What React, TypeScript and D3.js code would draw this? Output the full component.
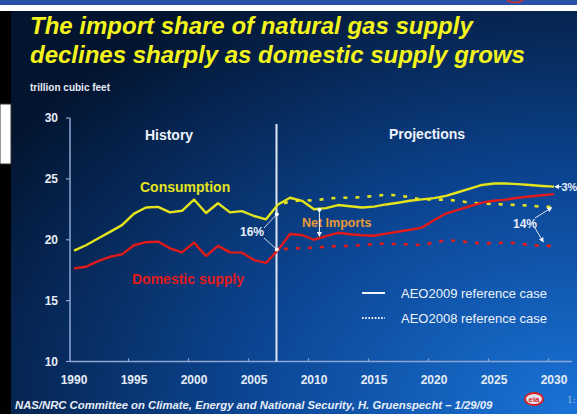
import React from "react";
import * as d3 from "d3";

const histYears = d3.range(1990, 2008);
const histConsumption = [19.1, 19.55, 20.1, 20.65, 21.2, 22.15, 22.65, 22.7, 22.25, 22.38, 23.3, 22.2, 23.0, 22.25, 22.35, 21.95, 21.68, 22.9];
const histDomestic = [17.65, 17.78, 18.25, 18.6, 18.8, 19.55, 19.8, 19.85, 19.3, 18.96, 19.76, 18.66, 19.5, 18.96, 18.94, 18.33, 18.1, 19.15];

const projYears = d3.range(2007, 2031);
const aeo09Consumption = [22.9, 23.45, 23.2, 22.5, 22.6, 22.85, 22.75, 22.65, 22.72, 22.9, 23.04, 23.2, 23.32, 23.42, 23.6, 23.9, 24.2, 24.5, 24.62, 24.62, 24.57, 24.5, 24.42, 24.36];
const aeo09Domestic = [19.15, 20.47, 20.39, 20.0, 20.3, 20.57, 20.45, 20.37, 20.33, 20.5, 20.66, 20.82, 21.0, 21.6, 22.15, 22.45, 22.75, 23.05, 23.2, 23.3, 23.45, 23.55, 23.65, 23.75];
const aeo08Consumption = [22.9, 23.12, 23.26, 23.22, 23.37, 23.45, 23.45, 23.5, 23.59, 23.7, 23.64, 23.5, 23.3, 23.3, 23.29, 23.2, 23.04, 22.99, 22.93, 22.9, 22.85, 22.8, 22.71, 22.71];
const aeo08Domestic = [19.15, 19.3, 19.3, 19.35, 19.43, 19.48, 19.5, 19.56, 19.64, 19.7, 19.64, 19.62, 19.56, 19.78, 19.97, 19.9, 19.78, 19.7, 19.7, 19.78, 19.7, 19.56, 19.5, 19.5];

const yTicks = [10, 15, 20, 25, 30];
const xTicks = [1990, 1995, 2000, 2005, 2010, 2015, 2020, 2025, 2030];

const titleLines = ["The import share of natural gas supply", "declines sharply as domestic supply grows"];
const footer = "NAS/NRC Committee on Climate, Energy and National Security, H. Gruenspecht \u2013 1/29/09";

const YELLOW = "#e4e41c";
const RED = "#e21a1a";
const FONT = "'Liberation Sans', Arial, sans-serif";

export default function App() {
  const W = 577, H = 414;
  const x = d3.scaleLinear().domain([1990, 2030]).range([74, 554]);
  const y = d3.scaleLinear().domain([10, 30]).range([361.5, 118]);
  const line = d3.line<[number, number]>().x(d => x(d[0])).y(d => y(d[1])).curve(d3.curveLinear);
  const zip = (xs: number[], vs: number[]) => xs.map((v, i) => [v, vs[i]] as [number, number]);

  const axisColor = "#8ea6d2";
  const labelColor = "#e6ecf6";

  const a16top: [number, number] = [x(2006.9), y(22.1)];
  const a16bot: [number, number] = [x(2006.9), y(19.2)];
  const niX = x(2010.45);
  const c2030 = aeo09Consumption[aeo09Consumption.length - 1];
  const c08 = aeo08Consumption[aeo08Consumption.length - 1];
  const d08 = aeo08Domestic[aeo08Domestic.length - 2];

  return (
    <svg width={W} height={H} viewBox={`0 0 ${W} ${H}`} style={{ position: "absolute", left: 0, top: 0, display: "block" }}>
      <defs>
        <radialGradient id="bg" cx="100%" cy="100%" r="120%" fx="100%" fy="100%">
          <stop offset="0%" stopColor="#1a74d8" />
          <stop offset="45%" stopColor="#0c4898" />
          <stop offset="100%" stopColor="#03142f" />
        </radialGradient>
        <marker id="ah" viewBox="0 0 6 6" refX="5" refY="3" markerWidth="5" markerHeight="5" orient="auto">
          <path d="M0,0 L6,3 L0,6 z" fill="#f0f4fa" />
        </marker>
      </defs>
      <rect x={0} y={0} width={W} height={5} fill="#2a4fa6" />
      <rect x={0} y={5} width={W} height={6} fill="#ffffff" />
      <path d="M507,0 Q515,5 523,0" fill="none" stroke="#d23030" strokeWidth={1.5} />
      <rect x={0} y={11} width={W} height={H - 11} fill="url(#bg)" />
      <rect x={0} y={11} width={11} height={H - 11} fill="#000000" />
      <rect x={0} y={104} width={11} height={60} fill="#ffffff" stroke="#333" strokeWidth={1} />

      {titleLines.map((t, i) => (
        <text key={i} x={30} y={34 + i * 29} fill="#f4f41c" fontFamily={FONT} fontWeight="bold" fontStyle="italic" fontSize={24}>{t}</text>
      ))}

      <text x={30} y={91} fill={labelColor} fontFamily={FONT} fontWeight="bold" fontSize={10}>trillion cubic feet</text>

      <line x1={70} y1={y(30)} x2={70} y2={y(10)} stroke={axisColor} strokeWidth={1.5} />
      <line x1={70} y1={y(10)} x2={572} y2={y(10)} stroke={axisColor} strokeWidth={1.5} />
      {yTicks.map(t => (
        <g key={t}>
          <line x1={66} x2={70} y1={y(t)} y2={y(t)} stroke={axisColor} strokeWidth={1.2} />
          <text x={58} y={y(t) + 4} textAnchor="end" fill={labelColor} fontFamily={FONT} fontWeight="bold" fontSize={12}>{t}</text>
        </g>
      ))}
      {xTicks.map(t => (
        <g key={t}>
          {t > 1990 && <line x1={x(t) - 5.5} x2={x(t) - 5.5} y1={y(10) - 3} y2={y(10)} stroke={axisColor} strokeWidth={1.2} />}
          <text x={x(t)} y={384} textAnchor="middle" fill={labelColor} fontFamily={FONT} fontWeight="bold" fontSize={12}>{t}</text>
        </g>
      ))}

      <line x1={x(2007) - 1.5} x2={x(2007) - 1.5} y1={124} y2={y(10)} stroke="#dfe7f3" strokeWidth={2} />

      <text x={169} y={140} textAnchor="middle" fill="#eef2fa" fontFamily={FONT} fontWeight="bold" fontSize={14}>History</text>
      <text x={427} y={139} textAnchor="middle" fill="#eef2fa" fontFamily={FONT} fontWeight="bold" fontSize={14}>Projections</text>

      <path d={line(zip(projYears, aeo08Consumption)) || ""} fill="none" stroke={YELLOW} strokeWidth={2.6} strokeDasharray="4 8" strokeDashoffset={-6} />
      <path d={line(zip(projYears, aeo08Domestic)) || ""} fill="none" stroke={RED} strokeWidth={2.6} strokeDasharray="4 8" strokeDashoffset={-6} />
      <path d={line(zip(histYears, histConsumption).concat(zip(projYears, aeo09Consumption).slice(1))) || ""} fill="none" stroke={YELLOW} strokeWidth={2.4} strokeLinejoin="round" />
      <path d={line(zip(histYears, histDomestic).concat(zip(projYears, aeo09Domestic).slice(1))) || ""} fill="none" stroke={RED} strokeWidth={2.4} strokeLinejoin="round" />

      <text x={140} y={192} fill={YELLOW} fontFamily={FONT} fontWeight="bold" fontSize={14}>Consumption</text>
      <text x={132} y={284} fill={RED} fontFamily={FONT} fontWeight="bold" fontSize={14}>Domestic supply</text>

      <text x={240} y={236} fill="#e8eef8" fontFamily={FONT} fontWeight="bold" fontSize={12}>16%</text>
      <line x1={264} y1={228} x2={a16top[0]} y2={a16top[1]} stroke="#cfd9ea" strokeWidth={1} />
      <line x1={264} y1={238} x2={a16bot[0]} y2={a16bot[1]} stroke="#cfd9ea" strokeWidth={1} />
      <circle cx={a16top[0]} cy={a16top[1]} r={2} fill="#ffffff" />
      <circle cx={a16bot[0]} cy={a16bot[1]} r={2} fill="#ffffff" />

      <text x={302} y={227} fill="#e89a38" fontFamily={FONT} fontWeight="bold" fontSize={12.5}>Net Imports</text>
      <circle cx={niX} cy={y(22.46)} r={2} fill="#ffffff" />
      <line x1={niX} y1={y(22.46)} x2={niX} y2={y(20.3)} stroke="#f0f4fa" strokeWidth={1} markerEnd="url(#ah)" />

      <line x1={562} y1={y(c2030)} x2={x(2030) + 1} y2={y(c2030)} stroke="#f0f4fa" strokeWidth={1} markerEnd="url(#ah)" />
      <text x={561.5} y={y(c2030) + 4} fill="#e8eef8" fontFamily={FONT} fontWeight="bold" fontSize={11}>3%</text>

      <text x={513} y={228} fill="#e8eef8" fontFamily={FONT} fontWeight="bold" fontSize={12}>14%</text>
      <line x1={535} y1={218} x2={x(2029.8)} y2={y(c08) + 1} stroke="#dfe7f3" strokeWidth={1} markerEnd="url(#ah)" />
      <line x1={535} y1={228} x2={x(2029.1)} y2={y(d08) - 4} stroke="#dfe7f3" strokeWidth={1} markerEnd="url(#ah)" />

      <line x1={362} x2={385} y1={293} y2={293} stroke="#f0f4fa" strokeWidth={2} />
      <text x={401} y={297.5} fill="#eef2fa" fontFamily={FONT} fontSize={13}>AEO2009 reference case</text>
      <line x1={362} x2={385} y1={318} y2={318} stroke="#f0f4fa" strokeWidth={2} strokeDasharray="1.6 1.6" />
      <text x={401} y={322.5} fill="#eef2fa" fontFamily={FONT} fontSize={13}>AEO2008 reference case</text>

      <text x={15} y={409} fill="#e8eef8" fontFamily={FONT} fontWeight="bold" fontStyle="italic" fontSize={11.3}>{footer}</text>
      <ellipse cx={534} cy={399} rx={9} ry={6} fill="#dfe3f0" stroke="#d42020" strokeWidth={2} />
      <text x={534} y={402} textAnchor="middle" fill="#d42020" fontFamily={FONT} fontWeight="bold" fontSize={8}>eia</text>
      <text x={567} y={403} fill="#9fb3d8" fontFamily="'DejaVu Serif', serif" fontSize={9}>1:</text>
    </svg>
  );
}
